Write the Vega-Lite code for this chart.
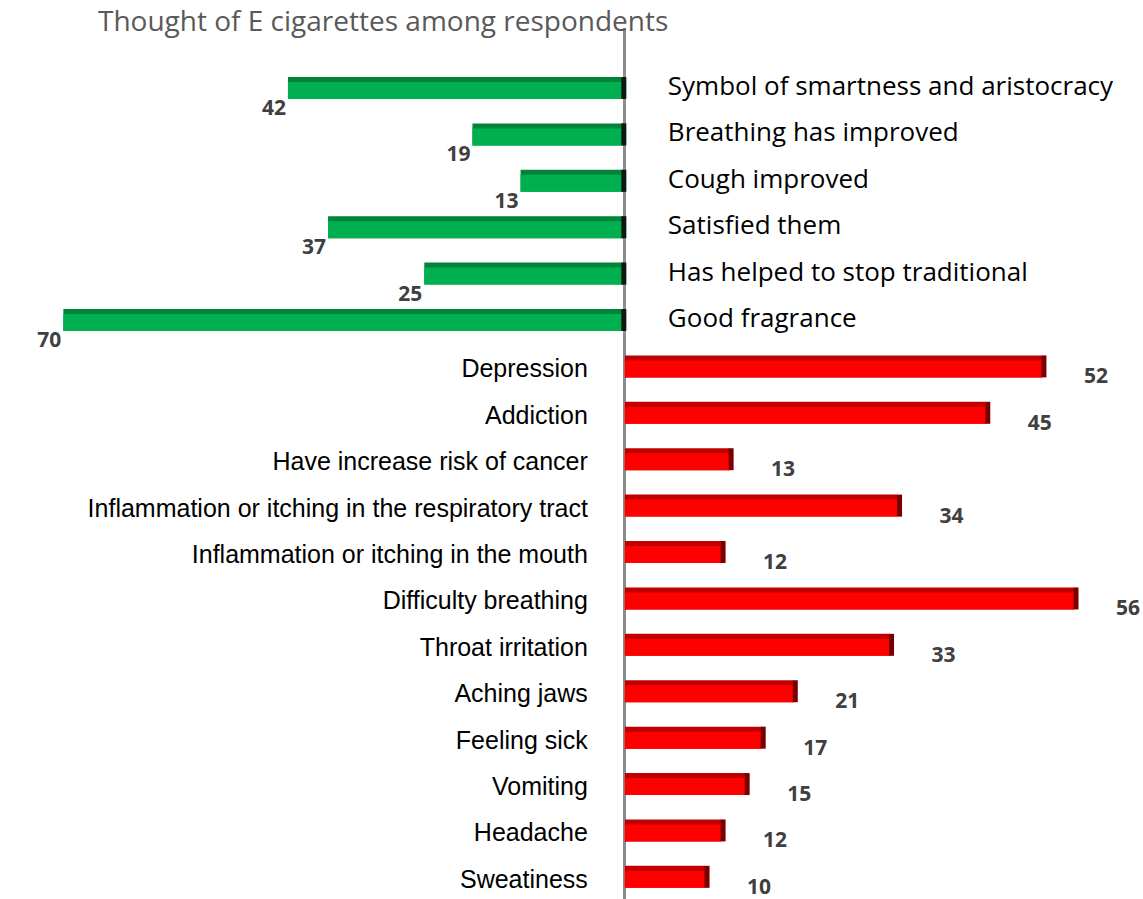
{
 "$schema": "https://vega.github.io/schema/vega-lite/v6.json",
 "width": 1143,
 "height": 871,
 "autosize": "none",
 "padding": {"top": 28, "left": 0, "right": 0, "bottom": 0},
 "title": {"text": "Thought of E cigarettes among respondents", "anchor": "start", "frame": "group", "dx": 98, "offset": -32, "baseline": "alphabetic", "font": "Open Sans", "fontSize": 28, "fontWeight": "normal", "color": "#595959"},
 "config": {"view": {"stroke": null}},
 "data": {"values": [
  {"category": "Symbol of smartness and aristocracy", "value": 42, "signed": -42, "group": "positive"},
  {"category": "Breathing has improved", "value": 19, "signed": -19, "group": "positive"},
  {"category": "Cough improved", "value": 13, "signed": -13, "group": "positive"},
  {"category": "Satisfied them", "value": 37, "signed": -37, "group": "positive"},
  {"category": "Has helped to stop traditional", "value": 25, "signed": -25, "group": "positive"},
  {"category": "Good  fragrance", "value": 70, "signed": -70, "group": "positive"},
  {"category": "Depression", "value": 52, "signed": 52, "group": "negative"},
  {"category": "Addiction", "value": 45, "signed": 45, "group": "negative"},
  {"category": "Have increase risk of cancer", "value": 13, "signed": 13, "group": "negative"},
  {"category": "Inflammation or itching in the  respiratory tract", "value": 34, "signed": 34, "group": "negative"},
  {"category": "Inflammation or itching in the mouth", "value": 12, "signed": 12, "group": "negative"},
  {"category": "Difficulty breathing", "value": 56, "signed": 56, "group": "negative"},
  {"category": "Throat irritation", "value": 33, "signed": 33, "group": "negative"},
  {"category": "Aching jaws", "value": 21, "signed": 21, "group": "negative"},
  {"category": "Feeling sick", "value": 17, "signed": 17, "group": "negative"},
  {"category": "Vomiting", "value": 15, "signed": 15, "group": "negative"},
  {"category": "Headache", "value": 12, "signed": 12, "group": "negative"},
  {"category": "Sweatiness", "value": 10, "signed": 10, "group": "negative"}
 ]},
 "encoding": {
  "y": {"field": "category", "type": "nominal", "sort": null, "axis": null,
        "scale": {"paddingInner": 0.52, "paddingOuter": 0.645, "align": 0.816, "round": false}}
 },
 "layer": [
  {"mark": {"type": "rule", "color": "#8c8c8c", "strokeWidth": 2},
   "encoding": {"x": {"datum": 0, "type": "quantitative", "scale": {"domain": [-77.9, 64.6], "nice": false, "zero": false}, "axis": null}, "y": null}},
  {"mark": {"type": "bar", "height": 22},
   "encoding": {
    "x": {"field": "signed", "type": "quantitative", "scale": {"domain": [-77.9, 64.6], "nice": false, "zero": false}, "axis": null},
    "x2": {"datum": 0},
    "color": {"field": "group", "type": "nominal", "legend": null, "scale": {"domain": ["positive", "negative"], "range": ["#00843a", "#c00000"]}}}},
  {"mark": {"type": "bar", "height": 17, "yOffset": 2.5},
   "encoding": {
    "x": {"field": "signed", "type": "quantitative", "scale": {"domain": [-77.9, 64.6], "nice": false, "zero": false}, "axis": null},
    "x2": {"datum": 0},
    "color": {"field": "group", "type": "nominal", "legend": null, "scale": {"domain": ["positive", "negative"], "range": ["#00b050", "#ff0000"]}}}},
  {"transform": [{"filter": "datum.group === 'negative'"}],
   "mark": {"type": "tick", "orient": "vertical", "thickness": 5, "size": 22, "xOffset": 2, "color": "#7a0000", "opacity": 1},
   "encoding": {"x": {"field": "signed", "type": "quantitative", "scale": {"domain": [-77.9, 64.6], "nice": false, "zero": false}, "axis": null}}},
  {"transform": [{"filter": "datum.group === 'positive'"}],
   "mark": {"type": "tick", "orient": "vertical", "thickness": 5, "size": 22, "xOffset": -1, "color": "#0b1a0f", "opacity": 1},
   "encoding": {"x": {"datum": 0, "type": "quantitative", "scale": {"domain": [-77.9, 64.6], "nice": false, "zero": false}, "axis": null}}},
  {"transform": [{"filter": "datum.group === 'positive'"}],
   "mark": {"type": "text", "align": "right", "baseline": "middle", "dx": -2, "dy": 21, "font": "Open Sans", "fontWeight": "bold", "fontSize": 21, "color": "#404040"},
   "encoding": {"x": {"field": "signed", "type": "quantitative", "scale": {"domain": [-77.9, 64.6], "nice": false, "zero": false}, "axis": null}, "text": {"field": "value"}}},
  {"transform": [{"filter": "datum.group === 'negative'"}],
   "mark": {"type": "text", "align": "left", "baseline": "middle", "dx": 42, "dy": 11, "font": "Open Sans", "fontWeight": "bold", "fontSize": 21, "color": "#404040"},
   "encoding": {"x": {"field": "signed", "type": "quantitative", "scale": {"domain": [-77.9, 64.6], "nice": false, "zero": false}, "axis": null}, "text": {"field": "value"}}},
  {"transform": [{"filter": "datum.group === 'positive'"}],
   "mark": {"type": "text", "align": "left", "baseline": "middle", "dx": 43, "dy": -1, "font": "Open Sans", "fontSize": 26, "color": "#000000"},
   "encoding": {"x": {"datum": 0, "type": "quantitative", "scale": {"domain": [-77.9, 64.6], "nice": false, "zero": false}, "axis": null}, "text": {"field": "category"}}},
  {"transform": [{"filter": "datum.group === 'negative'"}],
   "mark": {"type": "text", "align": "right", "baseline": "middle", "dx": -37, "dy": 3, "font": "Liberation Sans", "fontSize": 25, "color": "#000000"},
   "encoding": {"x": {"datum": 0, "type": "quantitative", "scale": {"domain": [-77.9, 64.6], "nice": false, "zero": false}, "axis": null}, "text": {"field": "category"}}}
 ],
 "resolve": {"scale": {"color": "independent"}}
}
